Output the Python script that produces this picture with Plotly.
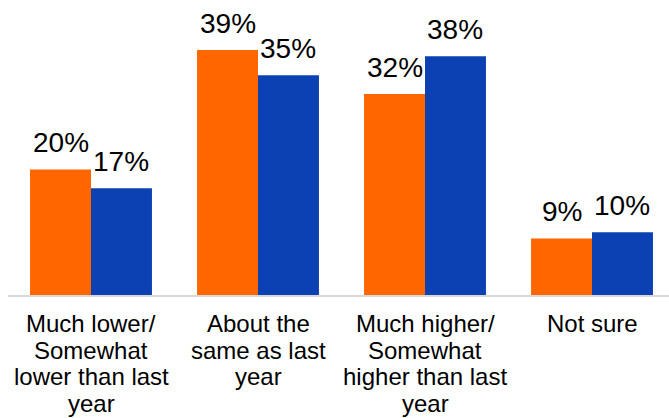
import plotly.graph_objects as go

category_lines = [
    ["Much lower/", "Somewhat", "lower than last", "year"],
    ["About the", "same as last", "year"],
    ["Much higher/", "Somewhat", "higher than last", "year"],
    ["Not sure"],
]
categories = ["<br>".join(c) for c in category_lines]
series_a = [20, 39, 32, 9]   # orange
series_b = [17, 35, 38, 10]  # blue

ORANGE = "#FF6600"
BLUE = "#0C41B4"
FONT = "Liberation Sans, Arial, sans-serif"

BARGAP = 0.27
half = (1 - BARGAP) / 4  # center offset of each bar in category units
xs = list(range(len(categories)))

fig = go.Figure()
fig.add_trace(go.Bar(x=xs, y=series_a, marker_color=ORANGE,
                     marker_line_width=0, showlegend=False))
fig.add_trace(go.Bar(x=xs, y=series_b, marker_color=BLUE,
                     marker_line_width=0, showlegend=False))

annotations = []
for i, (a, b) in enumerate(zip(series_a, series_b)):
    for val, off in ((a, -half), (b, half)):
        annotations.append(dict(
            x=i + off, y=val, xref="x", yref="y", text=f"{val}%",
            showarrow=False, yanchor="bottom", xanchor="center", yshift=9,
            font=dict(family=FONT, size=28, color="#000000"),
        ))

# category labels, one line per annotation for tighter line spacing
LINE_H = 26.7
for i, lines in enumerate(category_lines):
    for k, line in enumerate(lines):
        annotations.append(dict(
            x=i, y=0, xref="x", yref="y", text=line,
            showarrow=False, yanchor="middle", xanchor="center",
            yshift=-(28.4 + LINE_H * k),
            font=dict(family=FONT, size=24, color="#000000"),
        ))

fig.update_layout(
    width=669, height=418,
    margin=dict(l=8, r=0, t=0, b=123),
    paper_bgcolor="white", plot_bgcolor="white",
    barmode="group", bargap=BARGAP, bargroupgap=0,
    font=dict(family=FONT, color="#000000"),
    annotations=annotations,
    xaxis=dict(
        tickmode="array", tickvals=xs, ticktext=categories, showticklabels=False,
        range=[-0.497, 3.461], showline=True, linecolor="#D9D9D9", linewidth=1.5,
        showgrid=False, zeroline=False, ticks="",
    ),
    yaxis=dict(range=[0, 46.97], visible=False, showgrid=False, zeroline=False),
)

fig.write_html("out.html")
